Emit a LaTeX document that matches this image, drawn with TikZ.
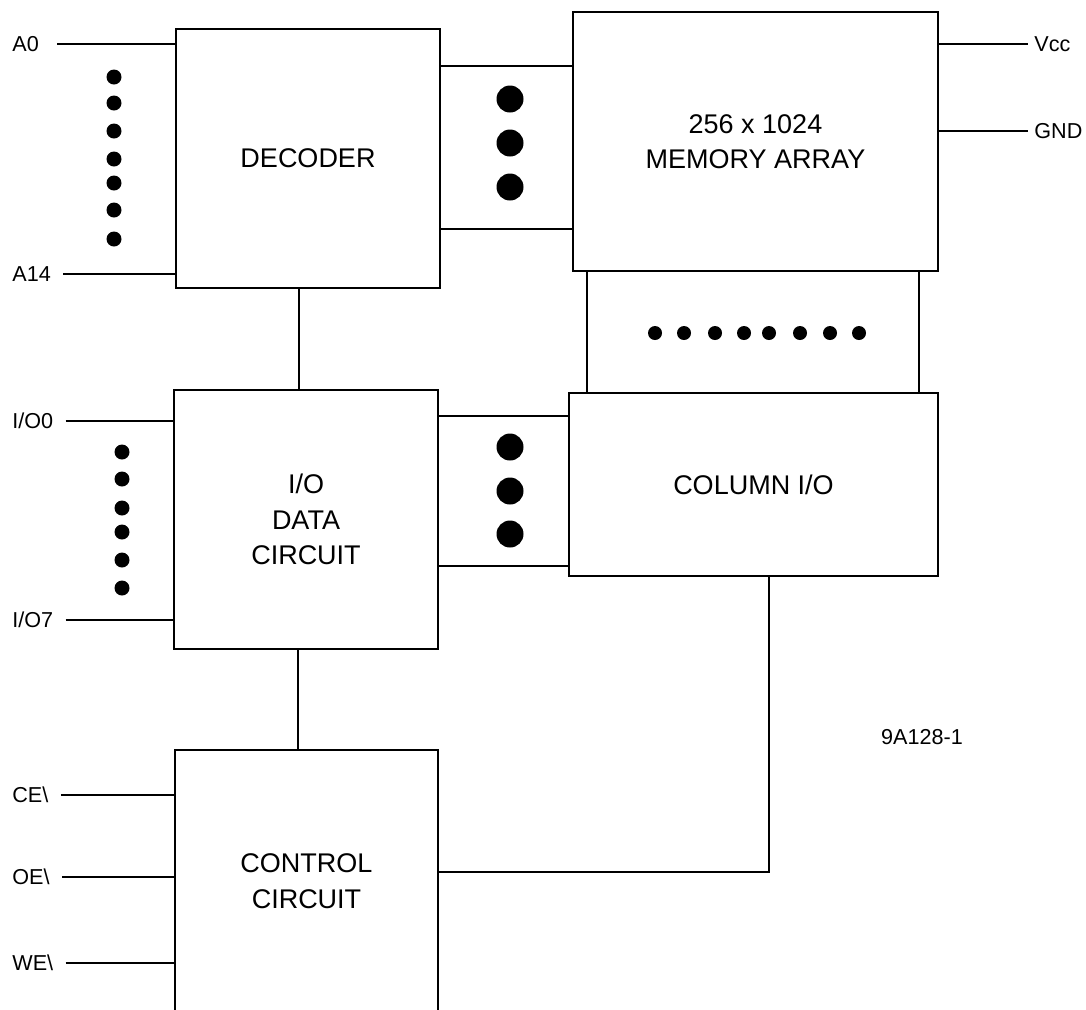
\documentclass[tikz,border=0pt]{standalone}
\usepackage{fontspec}
\setmainfont{Liberation Sans}
\usetikzlibrary{positioning}

\begin{document}
\begin{tikzpicture}[
    x=0.5pt, y=-0.5pt,
    blk/.style={
      draw,
      line width=0.9pt,
      inner sep=0pt,
      align=center,
      font=\fontsize{13.5}{17.8}\selectfont
    },
    pin/.style={
      font=\fontsize{10.8}{13}\selectfont,
      inner sep=0pt
    },
    wire/.style={line width=0.8pt},
    pinline/.style={wire, shorten <=6pt}
  ]
  \useasboundingbox (0,0) rectangle (1086,1009);
  \clip (0,0) rectangle (1086,1009);

  % Decoder
  \node[blk, minimum width=132pt, minimum height=129.5pt] (dec) at (308,158.5) {DECODER};

  % Memory array
  \node[blk, minimum width=182.5pt, minimum height=129.5pt] (mem) at (755.5,141.5)
    {256 x 1024\\MEMORY ARRAY};

  % Column I/O
  \node[blk, minimum width=184.5pt, minimum height=91.5pt] (col) at (753.5,484.5) {COLUMN I/O};

  % I/O data circuit
  \node[blk, minimum width=132pt, minimum height=129.5pt] (iod) at (306,519.5)
    {I/O\\DATA\\CIRCUIT};

  % Control circuit
  \node[blk, minimum width=131.5pt, minimum height=131pt] (ctl) at (306.5,881)
    {CONTROL\\CIRCUIT};

  % Pin labels
  \node[pin, anchor=west] (a0)  at (12,44)  {A0};
  \node[pin, anchor=west] (a14) at (12,274) {A14};
  \node[pin, anchor=west] (io0) at (12,421) {I/O0};
  \node[pin, anchor=west] (io7) at (12,620) {I/O7};
  \node[pin, anchor=west] (ce)  at (12,795) {CE\textbackslash};
  \node[pin, anchor=west] (oe)  at (12,877) {OE\textbackslash};
  \node[pin, anchor=west] (we)  at (12,963) {WE\textbackslash};
  \node[pin, anchor=west] (vcc) at (1034,44)  {Vcc};
  \node[pin, anchor=west] (gnd) at (1034,131) {GND};
  \node[pin] (fig) at (922,737) {9A128-1};

  % Pin lines
  \draw[pinline, shorten <=9pt] (a0.east) -- (a0.east -| dec.west);
  \draw[pinline] (a14.east) -- (a14.east -| dec.west);
  \draw[pinline] (io0.east) -- (io0.east -| iod.west);
  \draw[pinline] (io7.east) -- (io7.east -| iod.west);
  \draw[pinline] (ce.east) -- (ce.east -| ctl.west);
  \draw[pinline] (oe.east) -- (oe.east -| ctl.west);
  \draw[pinline] (we.east) -- (we.east -| ctl.west);
  \draw[wire, shorten >=3pt] (vcc.west -| mem.east) -- (vcc.west);
  \draw[wire, shorten >=3pt] (gnd.west -| mem.east) -- (gnd.west);

  % Buses between blocks
  \foreach \yy in {66,229}
    \draw[wire] (dec.east |- 0,\yy) -- (mem.west |- 0,\yy);
  \foreach \yy in {416,566}
    \draw[wire] (iod.east |- 0,\yy) -- (col.west |- 0,\yy);
  \foreach \xx in {587,919}
    \draw[wire] (mem.south -| \xx,0) -- (col.north -| \xx,0);
  \draw[wire] ([xshift=-4.5pt]dec.south) -- ([xshift=-4.5pt]dec.south |- iod.north);
  \draw[wire] ([xshift=-4pt]iod.south) -- ([xshift=-4pt]iod.south |- ctl.north);
  \draw[wire] (col.south -| 769,0) |- (ctl.east |- 0,872);

  % Dots
  \foreach \yy in {77,103,131,159,183,210,239}
    \fill (114,\yy) circle (7.5);
  \foreach \yy in {452,479,508,532,560,588}
    \fill (122,\yy) circle (7.5);
  \foreach \xx in {655,684,715,744,769,800,830,859}
    \fill (\xx,333) circle (7);
  \foreach \yy in {99,143,187}
    \fill (510,\yy) circle (13.5);
  \foreach \yy in {447,491,534}
    \fill (510,\yy) circle (13.5);

\end{tikzpicture}
\end{document}
